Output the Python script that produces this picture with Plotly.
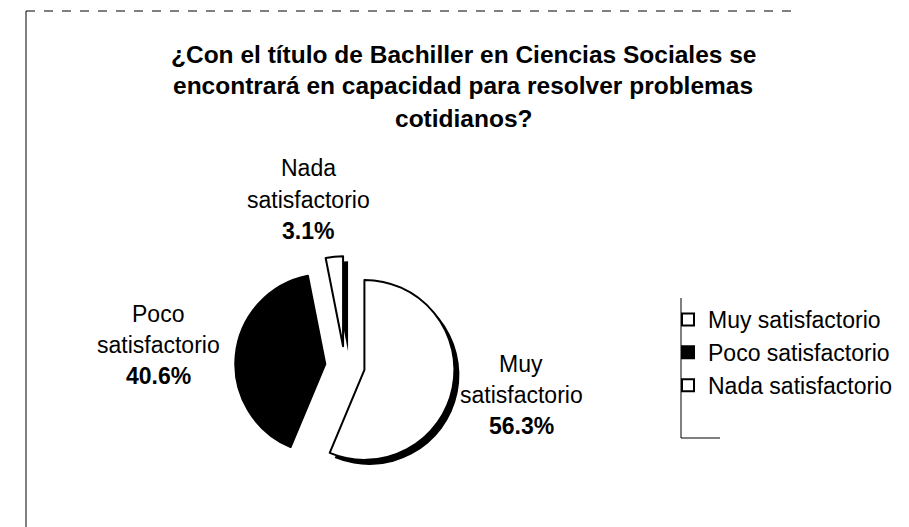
import plotly.graph_objects as go

# ---- data ----
categories = ["Muy satisfactorio", "Poco satisfactorio", "Nada satisfactorio"]
label_lines = [["Muy", "satisfactorio"], ["Poco", "satisfactorio"], ["Nada", "satisfactorio"]]
values = [56.3, 40.6, 3.1]
title_lines = [
    "¿Con el título de Bachiller en Ciencias Sociales se",
    "encontrará en capacidad para resolver problemas",
    "cotidianos?",
]

# ---- layout / style ----
W, H = 909, 527
FONT = "Liberation Sans, Arial, sans-serif"
fill_colors = ["white", "black", "white"]
shadow_colors = ["black", "rgba(0,0,0,0)", "black"]

cx, cy = 337, 358      # pie centre (px)
r = 90                 # pie radius (px)
pull = 0.22
half = r * (1 + pull)
sh = 5                 # shadow offset (px)


def px_x(x):
    return x / W


def px_y(y):
    return 1 - y / H


fig = go.Figure()

# drop shadow behind the white slices
fig.add_trace(go.Pie(
    labels=categories, values=values, sort=False, direction="clockwise", rotation=0,
    pull=[pull] * len(values), textinfo="none", hoverinfo="skip", showlegend=False,
    marker=dict(colors=shadow_colors, line=dict(width=0)),
    domain=dict(x=[px_x(cx - half + sh), px_x(cx + half + sh)],
                y=[px_y(cy + half + sh), px_y(cy - half + sh)]),
))

fig.add_trace(go.Pie(
    labels=categories, values=values, sort=False, direction="clockwise", rotation=0,
    pull=[pull] * len(values), textinfo="none",
    marker=dict(colors=fill_colors, line=dict(color="black", width=2)),
    domain=dict(x=[px_x(cx - half), px_x(cx + half)],
                y=[px_y(cy + half), px_y(cy - half)]),
))

annotations = []
title_y = [46, 78, 110]
for line, y in zip(title_lines, title_y):
    annotations.append(dict(text="<b>%s</b>" % line, x=px_x(455), y=px_y(y), xref="paper", yref="paper",
                            xanchor="center", yanchor="middle", showarrow=False,
                            font=dict(family=FONT, size=24.5, color="black")))

label_pos = [(513, [356, 387, 418]), (150, [306, 337, 368]), (300, [160, 192, 223])]
for lines, val, (lx, ys) in zip(label_lines, values, label_pos):
    texts = lines + ["<b>%.1f%%</b>" % val]
    for t, y in zip(texts, ys):
        annotations.append(dict(text=t, x=px_x(lx), y=px_y(y), xref="paper", yref="paper",
                                xanchor="center", yanchor="middle", showarrow=False,
                                font=dict(family=FONT, size=23, color="black")))

shapes = [
    dict(type="line", xref="paper", yref="paper", x0=px_x(18), x1=px_x(785), y0=px_y(3), y1=px_y(3),
         line=dict(color="black", width=1, dash="dash")),
    dict(type="line", xref="paper", yref="paper", x0=px_x(18), x1=px_x(18), y0=px_y(3), y1=0,
         line=dict(color="black", width=1)),
    dict(type="line", xref="paper", yref="paper", x0=px_x(673), x1=px_x(673), y0=px_y(290), y1=px_y(430),
         line=dict(color="black", width=1)),
    dict(type="line", xref="paper", yref="paper", x0=px_x(673), x1=px_x(712), y0=px_y(430), y1=px_y(430),
         line=dict(color="black", width=1)),
]

fig.update_layout(
    width=W, height=H,
    margin=dict(l=0, r=0, t=0, b=0),
    paper_bgcolor="white", plot_bgcolor="white",
    annotations=annotations, shapes=shapes,
    legend=dict(x=px_x(660), y=px_y(290), xanchor="left", yanchor="top",
                font=dict(family=FONT, size=23, color="black"),
                bgcolor="rgba(0,0,0,0)", borderwidth=0, itemwidth=30,
                tracegroupgap=0),
)

fig.write_html("out.html")
